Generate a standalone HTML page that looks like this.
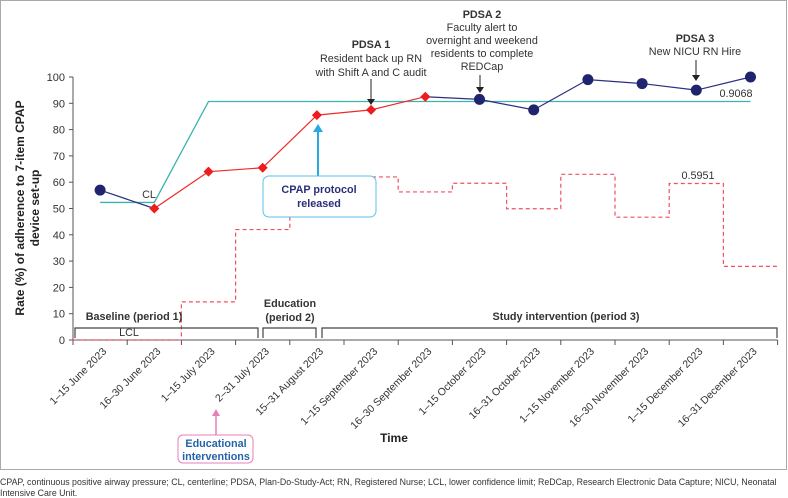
<!DOCTYPE html>
<html><head><meta charset="utf-8"><style>
body{margin:0;background:#fff;}
svg{display:block;font-family:"Liberation Sans",sans-serif;}
</style></head><body>
<svg width="788" height="498" viewBox="0 0 788 498">
<rect x="0.5" y="0.5" width="786" height="469" fill="#fff" stroke="#aaa"/>
<g id="axes"></g>
<g id="marks"></g>
<g font-size="10.8" fill="#333" text-anchor="middle">
 <text x="371" y="48" font-weight="bold">PDSA 1</text>
 <text x="371" y="62">Resident back up RN</text>
 <text x="371" y="76">with Shift A and C audit</text>
 <line x1="371" y1="79" x2="371" y2="100" stroke="#222"/><path d="M367,99 L375,99 L371,105Z" fill="#222"/>
 <text x="482" y="18" font-weight="bold">PDSA 2</text>
 <text x="482" y="31">Faculty alert to</text>
 <text x="482" y="44">overnight and weekend</text>
 <text x="482" y="57">residents to complete</text>
 <text x="482" y="70">REDCap</text>
 <line x1="480" y1="75" x2="480" y2="88" stroke="#222"/><path d="M476,87 L484,87 L480,93Z" fill="#222"/>
 <text x="695" y="42" font-weight="bold">PDSA 3</text>
 <text x="695" y="55">New NICU RN Hire</text>
 <line x1="696" y1="60" x2="696" y2="76" stroke="#222"/><path d="M692,75 L700,75 L696,81Z" fill="#222"/>
 <text x="736" y="97">0.9068</text>
 <text x="698" y="179">0.5951</text>
 <text x="149" y="198">CL</text>
 <text x="129" y="336">LCL</text>
 <text x="134" y="320" font-weight="bold">Baseline (period 1)</text>
 <text x="290" y="307" font-weight="bold">Education</text>
 <text x="290" y="321" font-weight="bold">(period 2)</text>
 <text x="566" y="320" font-weight="bold">Study intervention (period 3)</text>
 <path d="M75,338 V328 H258 V338 M263,338 V328 H316 V338 M322,338 V328 H777 V338" fill="none" stroke="#444" stroke-width="1.2"/>
 <line x1="318" y1="176" x2="318" y2="131" stroke="#2aa8e0" stroke-width="2"/><path d="M313,132 L323,132 L318,124Z" fill="#2aa8e0"/>
 <rect x="263" y="176" width="113" height="41" rx="6" fill="#fff" stroke="#5bc2ea"/>
 <text x="319" y="193" font-weight="bold" fill="#2a2f7a">CPAP protocol</text>
 <text x="319" y="207" font-weight="bold" fill="#2a2f7a">released</text>
 <line x1="216" y1="435" x2="216" y2="415" stroke="#e87fb8" stroke-width="1.5"/><path d="M212,416 L220,416 L216,409Z" fill="#e87fb8"/>
 <rect x="178" y="435" width="75" height="28" rx="5" fill="#fff" stroke="#e87fb8"/>
 <text x="216" y="447" font-weight="bold" fill="#2563a8">Educational</text>
 <text x="216" y="460" font-weight="bold" fill="#2563a8">interventions</text>
 <text x="394" y="442" font-weight="bold" font-size="12" fill="#222">Time</text>
 <text transform="translate(0,208) rotate(-90)" font-weight="bold" font-size="12" fill="#222"><tspan x="0" y="24">Rate (%) of adherence to 7-item CPAP</tspan><tspan x="0" y="39">device set-up</tspan></text>
</g>
<g font-size="8.8" fill="#333">
 <text x="0" y="485">CPAP, continuous positive airway pressure; CL, centerline; PDSA, Plan-Do-Study-Act; RN, Registered Nurse; LCL, lower confidence limit; ReDCap, Research Electronic Data Capture; NICU, Neonatal</text>
 <text x="0" y="496">Intensive Care Unit.</text>
</g>
</svg>
<script>
const categories=["1–15 June 2023","16–30 June 2023","1–15 July 2023","2–31 July 2023","15–31 August 2023","1–15 September 2023","16–30 September 2023","1–15 October 2023","16–31 October 2023","1–15 November 2023","16–30 November 2023","1–15 December 2023","16–31 December 2023"];
const adherence=[57,50,64,65.5,85.5,87.5,92.5,91.5,87.5,99,97.5,95,100];
const phaseType=["b","r","r","r","r","r","r","b","b","b","b","b","b"];
const lcl=[0,0,14.5,42,62,62,56.3,59.6,49.9,63,46.7,59.5,28];
const clBaseline=52.3;
const clValue=90.68;
const yTicks=[0,10,20,30,40,50,60,70,80,90,100];
const NS="http://www.w3.org/2000/svg";
const x0=73,step=54.2,yb=340,yt=77;
const xc=i=>x0+step*(i+0.5);
const xe=i=>x0+step*i;
const y=v=>yb-(yb-yt)*v/100;
function mk(t,a,p){const e=document.createElementNS(NS,t);for(const k in a)e.setAttribute(k,a[k]);(p||document.getElementById('marks')).appendChild(e);return e;}
const ax=document.getElementById('axes');
let a=mk('line',{x1:x0,y1:yt,x2:x0,y2:yb,stroke:'#555'},ax);

a=mk('line',{x1:x0,y1:yb,x2:xe(categories.length),y2:yb,stroke:'#555'},ax);

yTicks.forEach(v=>{mk('line',{x1:x0-4,y1:y(v),x2:x0,y2:y(v),stroke:'#555'},ax);
 const t=mk('text',{x:x0-8,y:y(v)+4,'text-anchor':'end','font-size':'11',fill:'#333'},ax);t.textContent=v;
 });
for(let i=0;i<=categories.length;i++)mk('line',{x1:xe(i),y1:yb,x2:xe(i),y2:yb+5,stroke:'#555'},ax);
categories.forEach((c,i)=>{const t=mk('text',{x:0,y:0,'text-anchor':'end','font-size':'10.5',fill:'#333',transform:`translate(${xc(i)+7},${yb+12}) rotate(-45)`},ax);t.textContent=c;
 });
let d='';lcl.forEach((v,i)=>{d+=(i?'L':'M')+xe(i)+','+y(v)+'L'+xe(i+1)+','+y(v);});
let p=mk('path',{d:d,fill:'none',stroke:'#f05060','stroke-width':1.2,'stroke-dasharray':'4,3'});

p=mk('path',{d:`M${xc(0)},${y(clBaseline)}L${xc(1)},${y(clBaseline)}L${xc(2)},${y(clValue)}L${xc(12)},${y(clValue)}`,fill:'none',stroke:'#3bb3b0','stroke-width':1.3});

for(let i=0;i<adherence.length-1;i++){
 const s=mk('line',{x1:xc(i),y1:y(adherence[i]),x2:xc(i+1),y2:y(adherence[i+1]),stroke:(phaseType[i]==='r'&&phaseType[i+1]==='r')?'#ee2a2a':'#2d2f80','stroke-width':1.2});
 }
adherence.forEach((v,i)=>{let m;
 if(phaseType[i]==='r'){const cx=xc(i),cy=y(v);m=mk('path',{d:`M${cx},${cy-5}L${cx+5},${cy}L${cx},${cy+5}L${cx-5},${cy}Z`,fill:'#ee1c1c'});}
 else m=mk('circle',{cx:xc(i),cy:y(v),r:5.5,fill:'#20246e'});
 });
</script>
</body></html>
